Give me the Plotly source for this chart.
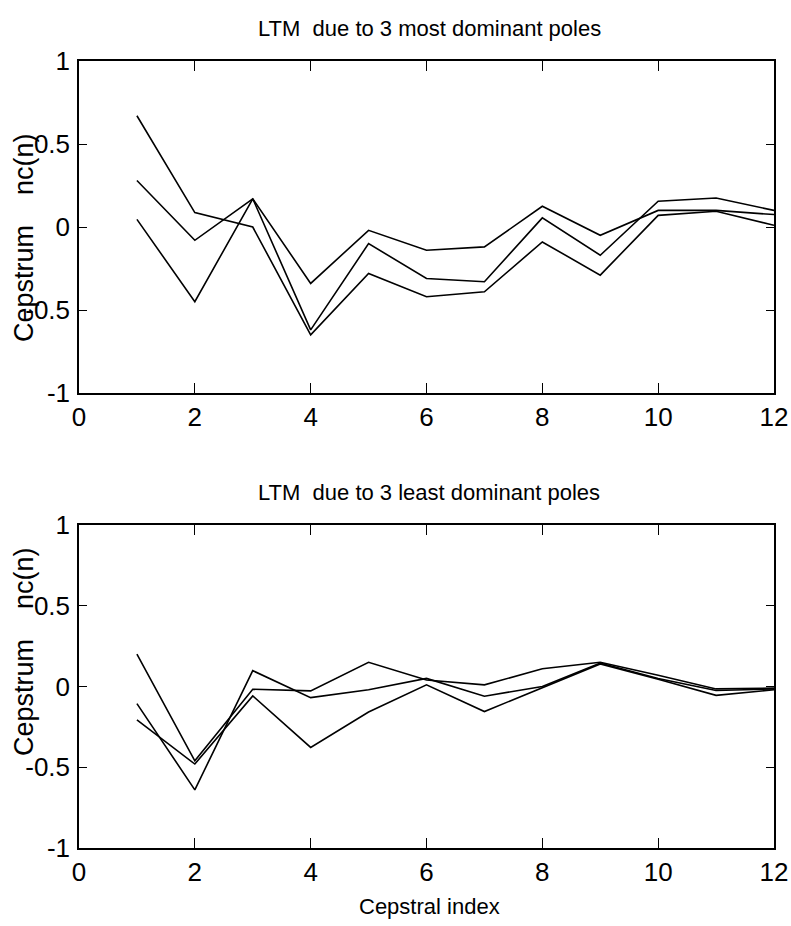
import plotly.graph_objects as go

n_index = list(range(1, 13))

# Top panel: LTM due to 3 most dominant poles
top_a = [0.67, 0.087, 0.0, -0.65, -0.28, -0.42, -0.39, -0.09, -0.29, 0.07, 0.095, 0.01]
top_b = [0.28, -0.08, 0.17, -0.34, -0.02, -0.14, -0.12, 0.125, -0.05, 0.10, 0.10, 0.075]
top_c = [0.046, -0.45, 0.17, -0.62, -0.10, -0.31, -0.33, 0.055, -0.17, 0.155, 0.175, 0.10]

# Bottom panel: LTM due to 3 least dominant poles
bot_a = [0.20, -0.46, -0.017, -0.027, 0.15, 0.04, 0.01, 0.11, 0.15, 0.07, -0.015, -0.01]
bot_b = [-0.106, -0.64, 0.098, -0.069, -0.02, 0.05, -0.06, 0.0, 0.145, 0.05, -0.025, -0.015]
bot_c = [-0.206, -0.48, -0.058, -0.377, -0.158, 0.01, -0.155, -0.005, 0.14, 0.045, -0.055, -0.02]

x_tickvals = [0, 2, 4, 6, 8, 10, 12]
x_ticktext = ["0", "2", "4", "6", "8", "10", "12"]
y_tickvals = [-1, -0.5, 0, 0.5, 1]
y_ticktext = ["-1", "-0.5", "0", "0.5", "1"]

title_top = "LTM  due to 3 most dominant poles"
title_bot = "LTM  due to 3 least dominant poles"
x_label = "Cepstral index"
y_label = "Cepstrum\u00a0\u00a0\u00a0\u00a0nc(n)"

FONT = "Liberation Sans, Arial, Helvetica, sans-serif"

fig = go.Figure()
line = dict(color="black", width=1.6)
for ys in (top_a, top_b, top_c):
    fig.add_trace(go.Scatter(x=n_index, y=ys, mode="lines", line=line,
                             xaxis="x", yaxis="y", showlegend=False))
for ys in (bot_a, bot_b, bot_c):
    fig.add_trace(go.Scatter(x=n_index, y=ys, mode="lines", line=line,
                             xaxis="x2", yaxis="y2", showlegend=False))

def xax(anchor):
    return dict(range=[0, 12], tickvals=x_tickvals, ticktext=x_ticktext,
                ticks="inside", ticklen=10, tickwidth=1.3, tickcolor="black",
                showline=True, linecolor="black", linewidth=1.5, mirror="ticks",
                showgrid=False, zeroline=False, anchor=anchor, automargin=False,
                ticklabeloverflow="allow",
                tickfont=dict(family=FONT, size=26, color="black"))

def yax(anchor, domain):
    return dict(range=[-1, 1], tickvals=y_tickvals, ticktext=y_ticktext,
                ticks="inside", ticklen=8, tickwidth=1.3, tickcolor="black",
                showline=True, linecolor="black", linewidth=1.5, mirror="ticks",
                showgrid=False, zeroline=False, anchor=anchor, domain=domain,
                ticklabelstandoff=2, automargin=False, ticklabeloverflow="allow",
                tickfont=dict(family=FONT, size=26, color="black"))

W, H = 791, 926
# plot-area edges in page pixels
PL, PR, PT, PB = 79, 774, 61, 848
L, R, T, B = PL, W - PR, PT, H - PB
ph = H - T - B
pw = W - L - R
def py(p):
    return (PB - p) / ph
def px(p):
    return (p - PL) / pw

fig.update_layout(
    width=W, height=H,
    margin=dict(l=L, r=R, t=T, b=B, autoexpand=False),
    paper_bgcolor="white", plot_bgcolor="white",
    xaxis=xax("y"), yaxis=yax("x", [py(393), 1.0]),
    xaxis2=xax("y2"), yaxis2=yax("x2", [0.0, py(525)]),
    annotations=[
        dict(text=title_top, x=px(429), y=py(28), xref="paper", yref="paper",
             showarrow=False, xanchor="center", yanchor="middle",
             font=dict(family=FONT, size=22, color="black")),
        dict(text=title_bot, x=px(429), y=py(492), xref="paper", yref="paper",
             showarrow=False, xanchor="center", yanchor="middle",
             font=dict(family=FONT, size=22, color="black")),
        dict(text=x_label, x=px(429), y=py(906), xref="paper", yref="paper",
             showarrow=False, xanchor="center", yanchor="middle",
             font=dict(family=FONT, size=22, color="black")),
        dict(text=y_label, x=px(24), y=py(238), xref="paper", yref="paper",
             showarrow=False, xanchor="center", yanchor="middle", textangle=-90,
             font=dict(family=FONT, size=27, color="black")),
        dict(text=y_label, x=px(24), y=py(652), xref="paper", yref="paper",
             showarrow=False, xanchor="center", yanchor="middle", textangle=-90,
             font=dict(family=FONT, size=27, color="black")),
    ],
)

fig.write_html(
    "out.html",
    config={"displayModeBar": False},
    post_script="document.body.style.margin='0';document.body.style.overflow='hidden';",
)
